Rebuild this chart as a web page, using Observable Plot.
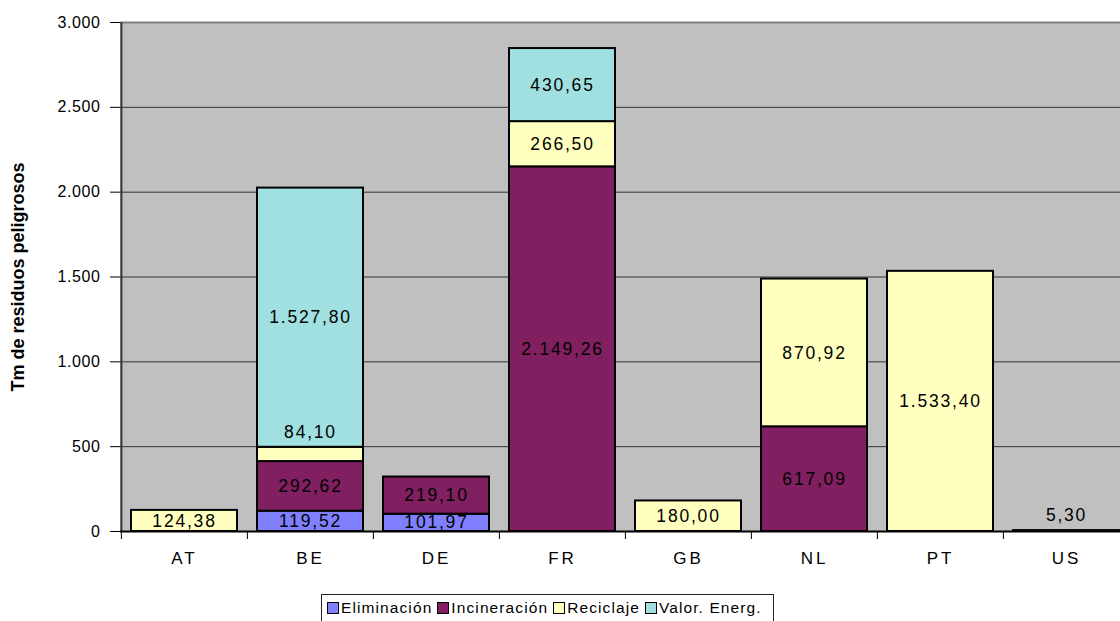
<!DOCTYPE html>
<html>
<head>
<meta charset="utf-8">
<script src="https://cdn.jsdelivr.net/npm/d3@7"></script>
<script src="https://cdn.jsdelivr.net/npm/@observablehq/plot@0.6"></script>
<style>
  html, body { margin: 0; padding: 0; background: #fff; overflow: hidden; }
  #chart svg { display: block; }
  .legend {
    margin-left: 321px;
    width: 453px;
    height: 30px;
    box-sizing: border-box;
    border: 1px solid #222;
    border-bottom: none;
    display: flex;
    align-items: flex-start;
    padding: 4px 0 0 5px;
    font: 15.5px "Liberation Sans", Arial, sans-serif;
    letter-spacing: 1.1px;
    color: #000;
  }
  .legend .item { display: flex; align-items: center; margin-right: 5px; white-space: nowrap; }
  .legend .sw { width: 10px; height: 10px; border: 1px solid #000; margin-right: 2px; }
</style>
</head>
<body>
<div id="chart"></div>
<script>
// Residuos peligrosos por país y tipo de tratamiento (Tm)
const countries = ["AT", "BE", "DE", "FR", "GB", "NL", "PT", "US"];
const seriesNames = ["Eliminación", "Incineración", "Reciclaje", "Valor. Energ."];
const eliminacion  = [0, 119.52, 101.97, 0, 0, 0, 0, 0];
const incineracion = [0, 292.62, 219.10, 2149.26, 0, 617.09, 0, 0];
const reciclaje    = [124.38, 84.10, 0, 266.50, 180.00, 870.92, 1533.40, 5.30];
const valorEnerg   = [0, 1527.80, 0, 430.65, 0, 0, 0, 0];
const yTicks = [0, 500, 1000, 1500, 2000, 2500, 3000];
const yTitle = "Tm de residuos peligrosos";
const seriesColors = ["#8080ff", "#802060", "#ffffc0", "#a0e0e0"];

const seriesValues = [eliminacion, incineracion, reciclaje, valorEnerg];

// Stack the segments bottom-up in series order
const rows = [];
countries.forEach((c, i) => {
  let base = 0;
  seriesValues.forEach((vals, s) => {
    const v = vals[i];
    if (v > 0) {
      rows.push({country: c, serie: seriesNames[s], value: v, y1: base, y2: base + v});
      base += v;
    }
  });
});

const es = d3.formatLocale({decimal: ",", thousands: ".", grouping: [3], currency: ["", " €"]});
const fmtAxis = es.format(",");
const fmtVal = es.format(",.2f");

// Segments too thin to hold their label get it just above them
const thin = d => d.value < 100;

const font = '"Liberation Sans", Arial, sans-serif';
const W = 1120, H = 594, mL = 120, mT = 22, mB = 63;
const step = (1130 - mL) / countries.length;

const plot = Plot.plot({
  width: W,
  height: H,
  marginLeft: mL,
  marginRight: 0,
  marginTop: mT,
  marginBottom: mB,
  style: {fontFamily: font, fontSize: "17px", background: "#fff", color: "#000"},
  x: {domain: countries, range: [mL, 1130], paddingInner: 0.155, paddingOuter: 0.0775, label: null},
  y: {domain: [0, 3000], label: null},
  color: {domain: seriesNames, range: seriesColors},
  marks: [
    Plot.frame({fill: "#c0c0c0"}),
    Plot.ruleY(yTicks.filter(t => t > 0 && t < 3000), {stroke: "#333", strokeWidth: 1}),
    Plot.ruleY([3000], {stroke: "#808080", strokeWidth: 2}),
    Plot.barY(rows, {
      x: "country", y1: "y1", y2: "y2", fill: "serie",
      stroke: "#000", strokeWidth: 2
    }),
    // labels centered in segments
    Plot.text(rows.filter(d => !thin(d)), {
      x: "country", y: d => (d.y1 + d.y2) / 2,
      text: d => fmtVal(d.value),
      fill: "#000", fontSize: 17.5, lineAnchor: "middle"
    }),
    // labels lifted above thin segments
    Plot.text(rows.filter(thin), {
      x: "country", y: "y2", dy: -15,
      text: d => fmtVal(d.value),
      fill: "#000", fontSize: 17.5, lineAnchor: "middle"
    }),
    // category boundary ticks below the axis
    Plot.ruleX(countries, {x: d => d, dx: -step / 2, y1: 0, y2: 0, insetBottom: -8, stroke: "#000", strokeWidth: 1}),
    // value axis line
    Plot.ruleX([countries[0]], {x: d => d, dx: -step / 2, y1: 0, y2: 3000, stroke: "#333", strokeWidth: 2}),
    Plot.ruleY([0], {stroke: "#000", strokeWidth: 2}),
    Plot.axisY({ticks: yTicks, tickFormat: fmtAxis, tickSize: 10, tickPadding: 10, label: null}),
    Plot.axisX({tickSize: 0, tickPadding: 20, label: null}),
    Plot.text([yTitle], {
      frameAnchor: "left", textAnchor: "middle", lineAnchor: "middle",
      dx: -102, rotate: -90,
      fontWeight: "bold", fontSize: 18, fill: "#000"
    })
  ]
});

// type sizes and spaced-out lettering, picked by what each text says
const yTickText = new Set(yTicks.map(fmtAxis));
const xTickText = new Set(countries);
d3.select(plot).selectAll("text").each(function () {
  const t = this.textContent;
  const sel = d3.select(this);
  if (t === yTitle) {
    sel.style("letter-spacing", "0px");
  } else if (xTickText.has(t)) {
    sel.style("font-size", "17px").style("letter-spacing", "3px");
  } else if (yTickText.has(t)) {
    sel.style("font-size", "16px").style("letter-spacing", "0.6px");
  } else {
    sel.style("letter-spacing", "1.8px");
  }
});

document.getElementById("chart").appendChild(plot);

// legend
const legend = document.createElement("div");
legend.className = "legend";
seriesNames.forEach((name, i) => {
  const item = document.createElement("div");
  item.className = "item";
  const sw = document.createElement("span");
  sw.className = "sw";
  sw.style.background = seriesColors[i];
  const label = document.createElement("span");
  label.textContent = name;
  item.appendChild(sw);
  item.appendChild(label);
  legend.appendChild(item);
});
document.body.appendChild(legend);
</script>
</body>
</html>
